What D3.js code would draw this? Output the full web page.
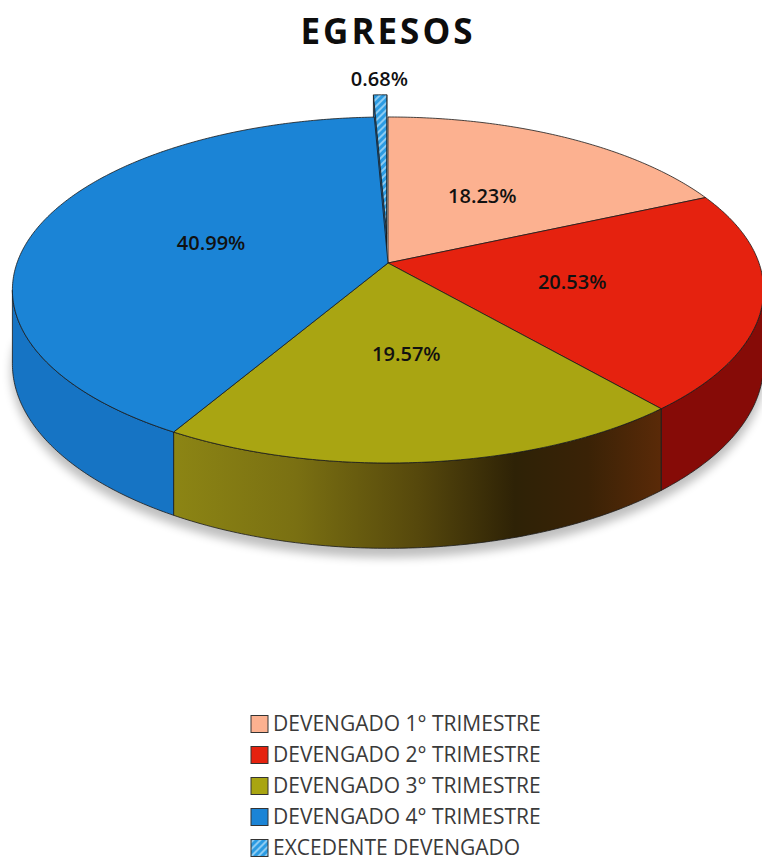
<!DOCTYPE html>
<html>
<head>
<meta charset="utf-8">
<title>EGRESOS</title>
<script src="https://d3js.org/d3.v7.min.js"></script>
<style>
    body { margin: 0; background: #fff; }
    svg { display: block; }
    .edge { stroke: #1a1a1a; stroke-width: 0.8px; stroke-linejoin: round; }
    .pct { font-family: "Open Sans", sans-serif; font-weight: 600; font-size: 20px; fill: #111; }
    .legend-text { font-family: "Open Sans", sans-serif; font-size: 21px; fill: #3a3a3a; }
</style>
</head>
<body>
<svg width="762" height="863"></svg>
<script>
    // chart data
    const categories = ["DEVENGADO 1° TRIMESTRE", "DEVENGADO 2° TRIMESTRE", "DEVENGADO 3° TRIMESTRE",
                        "DEVENGADO 4° TRIMESTRE", "EXCEDENTE DEVENGADO"];
    const values = [18.23, 20.53, 19.57, 40.99, 0.68];
    const topColors = ["#fcb190", "#e5220f", "#a9a512", "#1b84d6", "#2b9be2"];
    const sideColors = ["#c77a5c", "#860b07", "url(#oliveSide)", "#1674c4", "#1a6fb8"];
    const exploded = [0, 0, 0, 0, 0.18];

    const svg = d3.select("svg");

    // perspective settings for the tilted disk
    const cx = 388, cy = 263;
    const B = 371, A = 168.8, H = 72, k = 0.156;

    // X: left/right, Z: depth (+ toward viewer), h: 0 top face, 1 bottom
    function proj(X, Z, h) {
        const s = 1 / (1 - k * Z);
        return [cx + B * X * s, cy + (A * Z + H * h) * s];
    }
    function onDisk(a, r, off, h) {
        return proj(off[0] + r * Math.sin(a), off[1] - r * Math.cos(a), h);
    }
    function arcPoints(a0, a1, off, h) {
        const n = Math.max(2, Math.ceil(Math.abs(a1 - a0) / 0.01));
        return d3.range(n + 1).map(i => onDisk(a0 + (a1 - a0) * i / n, 1, off, h));
    }
    const line = d3.line();

    const arcs = d3.pie().sort(null).value(d => d)(values);
    arcs.forEach((d, i) => {
        const mid = (d.startAngle + d.endAngle) / 2;
        d.off = [exploded[i] * Math.sin(mid), -exploded[i] * Math.cos(mid)];
        d.mid = mid;
        d.i = i;
    });

    const defs = svg.append("defs");
    const g1 = defs.append("linearGradient").attr("id", "oliveSide")
        .attr("gradientUnits", "userSpaceOnUse")
        .attr("x1", onDisk(arcs[2].endAngle, 1, arcs[2].off, 0)[0]).attr("y1", 0)
        .attr("x2", onDisk(arcs[2].startAngle, 1, arcs[2].off, 0)[0]).attr("y2", 0);
    [[0, "#8c8514"], [0.25, "#7a7012"], [0.5, "#56480c"], [0.7, "#2e2206"], [0.85, "#3a2206"], [1, "#5a2a08"]]
        .forEach(s => g1.append("stop").attr("offset", s[0]).attr("stop-color", s[1]));

    const pat = defs.append("pattern").attr("id", "hatch")
        .attr("patternUnits", "userSpaceOnUse").attr("width", 5).attr("height", 5)
        .attr("patternTransform", "rotate(45)");
    pat.append("rect").attr("width", 5).attr("height", 5).attr("fill", topColors[4]);
    pat.append("rect").attr("width", 2).attr("height", 5).attr("fill", "#8ccbf2");

    const blur = defs.append("filter").attr("id", "shadow").attr("x", "-20%").attr("y", "-20%")
        .attr("width", "140%").attr("height", "140%");
    blur.append("feGaussianBlur").attr("stdDeviation", 5);

    // title
    svg.append("text")
        .attr("x", cx).attr("y", 44)
        .attr("text-anchor", "middle")
        .style("font-family", "'Open Sans', sans-serif")
        .style("font-weight", 700).style("font-size", "35px")
        .style("letter-spacing", "3px")
        .style("fill", "#0d0d0d")
        .text("EGRESOS");

    // soft shadow under the pie
    svg.append("path")
        .attr("d", line(arcPoints(Math.PI * 0.5, Math.PI * 1.5, [0, 0.02], 1.05)) + "Z")
        .attr("fill", "#000").attr("opacity", 0.25).attr("filter", "url(#shadow)");

    // visible range of the outer wall (silhouette points)
    const sil0 = Math.acos(-k), sil1 = 2 * Math.PI - Math.acos(-k);

    function drawSlice(d) {
        const i = d.i;
        const g = svg.append("g");
        // radial faces (only seen on the pulled-out slice)
        if (exploded[i] > 0) {
            [d.startAngle, d.endAngle].forEach(a => {
                const c0 = proj(d.off[0], d.off[1], 0), c1 = proj(d.off[0], d.off[1], 1);
                const p0 = onDisk(a, 1, d.off, 0), p1 = onDisk(a, 1, d.off, 1);
                g.append("path").attr("class", "edge")
                    .attr("d", line([c0, p0, p1, c1]) + "Z")
                    .attr("fill", sideColors[i]);
            });
        }
        // outer wall
        const a0 = Math.max(d.startAngle, sil0), a1 = Math.min(d.endAngle, sil1);
        if (a1 > a0) {
            const pts = arcPoints(a0, a1, d.off, 0).concat(arcPoints(a1, a0, d.off, 1));
            g.append("path").attr("class", "edge")
                .attr("d", line(pts) + "Z")
                .attr("fill", sideColors[i]);
        }
        return g;
    }

    function drawTop(d) {
        const pts = [proj(d.off[0], d.off[1], 0)].concat(arcPoints(d.startAngle, d.endAngle, d.off, 0));
        svg.append("path").attr("class", "edge")
            .attr("d", line(pts) + "Z")
            .attr("fill", d.i === 4 ? "url(#hatch)" : topColors[d.i]);
    }

    // the pulled-out slice sits behind the rest
    const out = arcs.filter(d => exploded[d.i] > 0);
    const rest = arcs.filter(d => exploded[d.i] === 0);
    out.forEach(d => { drawSlice(d); drawTop(d); });
    rest.forEach(drawSlice);
    rest.forEach(drawTop);

    // percentage labels
    arcs.forEach(d => {
        const r = exploded[d.i] > 0 ? 1.31 : 0.5;
        const p = exploded[d.i] > 0 ? onDisk(d.mid, r, [0, 0], 0) : onDisk(d.mid, r, d.off, 0);
        svg.append("text").attr("class", "pct")
            .attr("x", p[0]).attr("y", p[1]).attr("dy", "0.35em")
            .attr("text-anchor", "middle")
            .text(d3.format(".2f")(d.data) + "%");
    });

    // legend
    const legend = svg.append("g").attr("transform", "translate(251,724)");
    const rowH = 31;
    categories.forEach((c, i) => {
        const row = legend.append("g").attr("transform", `translate(0,${i * rowH})`);
        row.append("rect")
            .attr("x", 0).attr("y", -8.5).attr("width", 17).attr("height", 17)
            .attr("fill", i === 4 ? "url(#hatch)" : topColors[i])
            .attr("stroke", "#333").attr("stroke-width", 1);
        row.append("text").attr("class", "legend-text")
            .attr("x", 22).attr("y", 0).attr("dy", "0.35em")
            .text(c);
    });
</script>
</body>
</html>
